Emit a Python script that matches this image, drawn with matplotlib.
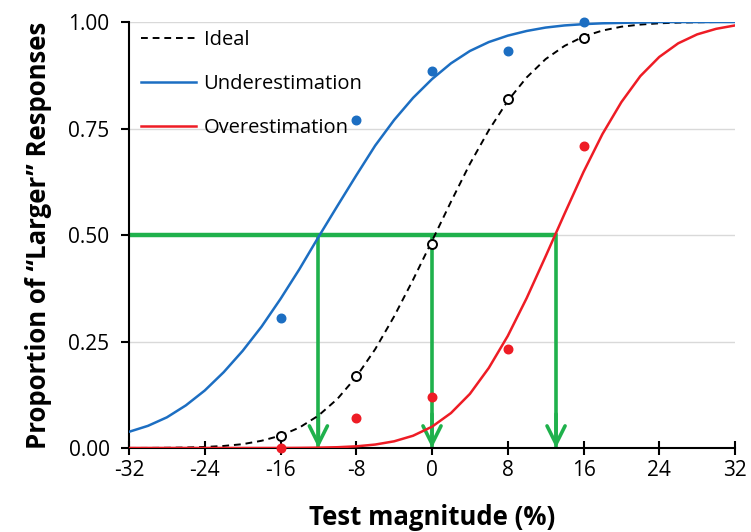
import matplotlib
matplotlib.use("Agg")
import matplotlib.pyplot as plt

plt.rcParams["font.family"] = ["Open Sans", "DejaVu Sans"]
plt.rcParams["axes.unicode_minus"] = False

# %% data
x_curve = [-32, -30, -28, -26, -24, -22, -20, -18, -16, -14, -12, -10, -8, -6, -4, -2,
           0, 2, 4, 6, 8, 10, 12, 14, 16, 18, 20, 22, 24, 26, 28, 30, 32]
ideal_curve = [0.0001, 0.0002, 0.0005, 0.0011, 0.0024, 0.0048, 0.009, 0.017, 0.029, 0.048,
               0.076, 0.115, 0.167, 0.232, 0.309, 0.395, 0.486, 0.578, 0.667, 0.746,
               0.815, 0.870, 0.913, 0.944, 0.966, 0.980, 0.989, 0.994, 0.997, 0.9986,
               0.9994, 1.0, 1.0]
under_curve = [0.038, 0.052, 0.072, 0.10, 0.135, 0.178, 0.228, 0.285, 0.35, 0.42,
               0.495, 0.568, 0.64, 0.71, 0.77, 0.822, 0.866, 0.903, 0.932, 0.953,
               0.968, 0.979, 0.987, 0.992, 0.995, 0.997, 0.998, 0.999, 1.0, 1.0,
               1.0, 1.0, 1.0]
over_curve = [0.0, 0.0, 0.0, 0.0, 0.0, 0.0, 0.0, 0.0, 0.0, 0.0003,
              0.0008, 0.0018, 0.0039, 0.0081, 0.0157, 0.0288, 0.050, 0.082, 0.127, 0.188,
              0.263, 0.352, 0.450, 0.550, 0.648, 0.737, 0.812, 0.873, 0.918, 0.950,
              0.971, 0.984, 0.992]

x_pts = [-16, -8, 0, 8, 16]
ideal_pts = [0.028, 0.17, 0.48, 0.82, 0.962]
under_pts = [0.305, 0.77, 0.885, 0.932, 1.0]
over_pts = [0.0, 0.07, 0.12, 0.232, 0.71]

# points of subjective equality (green arrows)
pse = [-12.0, 0.0, 13.1]
pse_level = 0.5

blue = "#1C6EC2"
red = "#EE1C25"
green = "#1FB14C"

# %% plot
fig = plt.figure(figsize=(7.51, 5.32), dpi=100)
ax = fig.add_axes([0.1718, 0.1579, 0.8069, 0.8007])

for y in [0.25, 0.5, 0.75, 1.0]:
    ax.axhline(y, color="#D9D9D9", lw=1, zorder=0)

ax.plot(x_curve, ideal_curve, color="black", ls=(0, (3.5, 2.5)), lw=1.4, label="Ideal", zorder=3)
ax.plot(x_curve, under_curve, color=blue, lw=1.8, label="Underestimation", zorder=3)
ax.plot(x_curve, over_curve, color=red, lw=1.8, label="Overestimation", zorder=3)

ax.scatter(x_pts, under_pts, s=38, color=blue, zorder=4, clip_on=False)
ax.scatter(x_pts, over_pts, s=38, color=red, zorder=4, clip_on=False)
ax.scatter(x_pts, ideal_pts, s=42, facecolor="white", edgecolor="black", lw=1.4, zorder=5)

# green guide lines
ax.plot([-32, pse[-1]], [pse_level, pse_level], color=green, lw=3.2, zorder=2,
        solid_capstyle="butt")
for px in pse:
    ax.plot([px, px], [pse_level, 0.005], color=green, lw=2.6, zorder=2)
    ax.annotate("", xy=(px, 0.0), xytext=(px, 0.08),
                arrowprops=dict(arrowstyle="->,head_length=1.3,head_width=0.65", color=green,
                                lw=2.6, shrinkA=0, shrinkB=0), zorder=2)

ax.set_xlim(-32, 32)
ax.set_ylim(0, 1)
ax.set_xticks(range(-32, 33, 8))
ax.set_yticks([0, 0.25, 0.5, 0.75, 1.0])
ax.set_yticklabels(["0.00", "0.25", "0.50", "0.75", "1.00"])

for s in ["top", "right"]:
    ax.spines[s].set_visible(False)
ax.spines["left"].set_linewidth(1.5)
ax.spines["bottom"].set_linewidth(1.5)
ax.tick_params(axis="x", direction="inout", length=10, width=1.5, labelsize=15, pad=4)
ax.tick_params(axis="y", direction="out", length=6, width=1.5, labelsize=15, pad=8)

ax.set_xlabel("Test magnitude (%)", fontsize=18.5, fontweight="bold", labelpad=16)
ax.set_ylabel("Proportion of \u201cLarger\u201d Responses", fontsize=18.5, fontweight="bold",
              labelpad=12)

ax.legend(loc="upper left", frameon=False, fontsize=14.5, handlelength=2.75, handletextpad=0.35,
          labelspacing=1.2, borderaxespad=0.2, bbox_to_anchor=(0.0, 1.01))

fig.savefig("out.png", dpi=100)
